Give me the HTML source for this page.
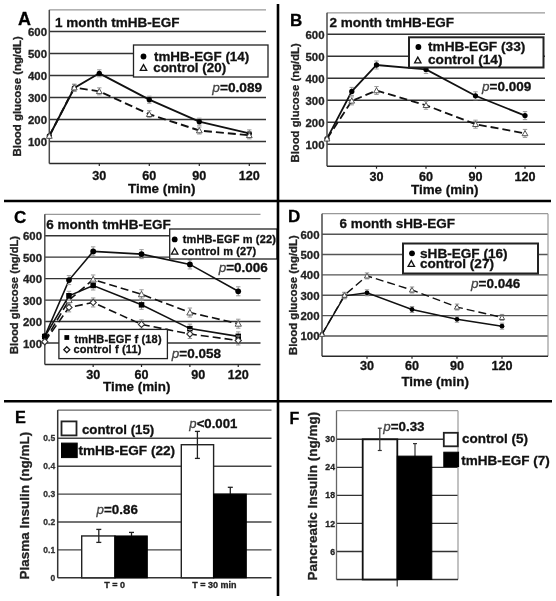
<!DOCTYPE html>
<html><head><meta charset="utf-8"><style>
html,body{margin:0;padding:0;background:#fff;width:556px;height:601px;overflow:hidden}
text{stroke-width:0.3px;font-family:"Liberation Sans", sans-serif}
</style></head><body>
<svg width="556" height="601" viewBox="0 0 556 601" style="display:block;filter:blur(0.4px)">
<g font-family='"Liberation Sans", sans-serif'>
<rect x="0" y="0" width="556" height="601" fill="#fff"/>
<line x1="49.3" y1="141.5" x2="266" y2="141.5" stroke="#333" stroke-width="1.4" />
<line x1="49.3" y1="119.5" x2="266" y2="119.5" stroke="#333" stroke-width="1.4" />
<line x1="49.3" y1="97.5" x2="266" y2="97.5" stroke="#333" stroke-width="1.4" />
<line x1="49.3" y1="75.5" x2="266" y2="75.5" stroke="#333" stroke-width="1.4" />
<line x1="49.3" y1="53.5" x2="266" y2="53.5" stroke="#333" stroke-width="1.4" />
<line x1="49.3" y1="31.5" x2="266" y2="31.5" stroke="#333" stroke-width="1.4" />
<line x1="49.3" y1="9.9" x2="266" y2="9.9" stroke="#999" stroke-width="1.3" />
<line x1="49.3" y1="9.9" x2="49.3" y2="163.5" stroke="#4a4a4a" stroke-width="1.5" />
<line x1="49.3" y1="163.5" x2="266" y2="163.5" stroke="#2a2a2a" stroke-width="1.5" />
<line x1="99.3" y1="163.5" x2="99.3" y2="166.0" stroke="#222" stroke-width="1.2" />
<line x1="149.3" y1="163.5" x2="149.3" y2="166.0" stroke="#222" stroke-width="1.2" />
<line x1="199.3" y1="163.5" x2="199.3" y2="166.0" stroke="#222" stroke-width="1.2" />
<line x1="249.3" y1="163.5" x2="249.3" y2="166.0" stroke="#222" stroke-width="1.2" />
<text x="47" y="146.0" font-size="11.4" font-weight="bold" font-style="normal" text-anchor="end" fill="#222" stroke="#222" >100</text>
<text x="47" y="124.0" font-size="11.4" font-weight="bold" font-style="normal" text-anchor="end" fill="#222" stroke="#222" >200</text>
<text x="47" y="102.0" font-size="11.4" font-weight="bold" font-style="normal" text-anchor="end" fill="#222" stroke="#222" >300</text>
<text x="47" y="80.0" font-size="11.4" font-weight="bold" font-style="normal" text-anchor="end" fill="#222" stroke="#222" >400</text>
<text x="47" y="58.0" font-size="11.4" font-weight="bold" font-style="normal" text-anchor="end" fill="#222" stroke="#222" >500</text>
<text x="47" y="36.0" font-size="11.4" font-weight="bold" font-style="normal" text-anchor="end" fill="#222" stroke="#222" >600</text>
<text x="99.3" y="179.6" font-size="12.6" font-weight="bold" font-style="normal" text-anchor="middle" fill="#111" stroke="#111" >30</text>
<text x="149.3" y="179.6" font-size="12.6" font-weight="bold" font-style="normal" text-anchor="middle" fill="#111" stroke="#111" >60</text>
<text x="199.3" y="179.6" font-size="12.6" font-weight="bold" font-style="normal" text-anchor="middle" fill="#111" stroke="#111" >90</text>
<text x="249.3" y="179.6" font-size="12.6" font-weight="bold" font-style="normal" text-anchor="middle" fill="#111" stroke="#111" >120</text>
<text x="128" y="193" font-size="13.4" font-weight="bold" font-style="normal" text-anchor="start" fill="#111" stroke="#111" >Time (min)</text>
<text transform="translate(20.7,156.5) rotate(-90)" font-size="11.4" font-weight="bold" fill="#222" stroke="#222">Blood glucose (ng/dL)</text>
<text x="55" y="27" font-size="13.5" font-weight="bold" font-style="normal" text-anchor="start" fill="#111" stroke="#111" >1 month tmHB-EGF</text>
<text x="18" y="25" font-size="18" font-weight="bold" font-style="normal" text-anchor="start" fill="#000" stroke="#000" >A</text>
<polyline points="49.3,136.0 74.3,88.0 99.3,73.3 149.3,99.7 199.3,121.7 249.3,133.4" fill="none" stroke="#111" stroke-width="1.9" />
<line x1="74.3" y1="84.54" x2="74.3" y2="91.54" stroke="#999" stroke-width="1.0" />
<line x1="72.1" y1="84.54" x2="76.5" y2="84.54" stroke="#999" stroke-width="1.0" />
<line x1="72.1" y1="91.54" x2="76.5" y2="91.54" stroke="#999" stroke-width="1.0" />
<line x1="99.3" y1="69.8" x2="99.3" y2="76.8" stroke="#999" stroke-width="1.0" />
<line x1="97.1" y1="69.8" x2="101.5" y2="69.8" stroke="#999" stroke-width="1.0" />
<line x1="97.1" y1="76.8" x2="101.5" y2="76.8" stroke="#999" stroke-width="1.0" />
<line x1="149.3" y1="96.2" x2="149.3" y2="103.2" stroke="#999" stroke-width="1.0" />
<line x1="147.10000000000002" y1="96.2" x2="151.5" y2="96.2" stroke="#999" stroke-width="1.0" />
<line x1="147.10000000000002" y1="103.2" x2="151.5" y2="103.2" stroke="#999" stroke-width="1.0" />
<line x1="199.3" y1="118.2" x2="199.3" y2="125.2" stroke="#999" stroke-width="1.0" />
<line x1="197.10000000000002" y1="118.2" x2="201.5" y2="118.2" stroke="#999" stroke-width="1.0" />
<line x1="197.10000000000002" y1="125.2" x2="201.5" y2="125.2" stroke="#999" stroke-width="1.0" />
<line x1="249.3" y1="129.86" x2="249.3" y2="136.86" stroke="#999" stroke-width="1.0" />
<line x1="247.10000000000002" y1="129.86" x2="251.5" y2="129.86" stroke="#999" stroke-width="1.0" />
<line x1="247.10000000000002" y1="136.86" x2="251.5" y2="136.86" stroke="#999" stroke-width="1.0" />
<circle cx="49.3" cy="136.0" r="2.64" fill="#000"/>
<circle cx="74.3" cy="88.0" r="2.64" fill="#000"/>
<circle cx="99.3" cy="73.3" r="2.64" fill="#000"/>
<circle cx="149.3" cy="99.7" r="2.64" fill="#000"/>
<circle cx="199.3" cy="121.7" r="2.64" fill="#000"/>
<circle cx="249.3" cy="133.4" r="2.64" fill="#000"/>
<polyline points="49.3,136.0 74.3,87.6 99.3,91.3 149.3,114.2 199.3,130.5 249.3,135.3" fill="none" stroke="#111" stroke-width="1.9" stroke-dasharray="8,4"/>
<line x1="74.3" y1="84.1" x2="74.3" y2="91.1" stroke="#999" stroke-width="1.0" />
<line x1="72.1" y1="84.1" x2="76.5" y2="84.1" stroke="#999" stroke-width="1.0" />
<line x1="72.1" y1="91.1" x2="76.5" y2="91.1" stroke="#999" stroke-width="1.0" />
<line x1="99.3" y1="87.84" x2="99.3" y2="94.84" stroke="#999" stroke-width="1.0" />
<line x1="97.1" y1="87.84" x2="101.5" y2="87.84" stroke="#999" stroke-width="1.0" />
<line x1="97.1" y1="94.84" x2="101.5" y2="94.84" stroke="#999" stroke-width="1.0" />
<line x1="149.3" y1="110.72" x2="149.3" y2="117.72" stroke="#999" stroke-width="1.0" />
<line x1="147.10000000000002" y1="110.72" x2="151.5" y2="110.72" stroke="#999" stroke-width="1.0" />
<line x1="147.10000000000002" y1="117.72" x2="151.5" y2="117.72" stroke="#999" stroke-width="1.0" />
<line x1="199.3" y1="127.0" x2="199.3" y2="134.0" stroke="#999" stroke-width="1.0" />
<line x1="197.10000000000002" y1="127.0" x2="201.5" y2="127.0" stroke="#999" stroke-width="1.0" />
<line x1="197.10000000000002" y1="134.0" x2="201.5" y2="134.0" stroke="#999" stroke-width="1.0" />
<line x1="249.3" y1="131.84" x2="249.3" y2="138.84" stroke="#999" stroke-width="1.0" />
<line x1="247.10000000000002" y1="131.84" x2="251.5" y2="131.84" stroke="#999" stroke-width="1.0" />
<line x1="247.10000000000002" y1="138.84" x2="251.5" y2="138.84" stroke="#999" stroke-width="1.0" />
<path d="M49.3,133.1 L52.2,138.3 L46.4,138.3 Z" fill="#fff" stroke="#555" stroke-width="1"/>
<path d="M74.3,84.7 L77.2,89.9 L71.4,89.9 Z" fill="#fff" stroke="#555" stroke-width="1"/>
<path d="M99.3,88.5 L102.2,93.6 L96.4,93.6 Z" fill="#fff" stroke="#555" stroke-width="1"/>
<path d="M149.3,111.4 L152.2,116.5 L146.4,116.5 Z" fill="#fff" stroke="#555" stroke-width="1"/>
<path d="M199.3,127.6 L202.2,132.8 L196.4,132.8 Z" fill="#fff" stroke="#555" stroke-width="1"/>
<path d="M249.3,132.5 L252.2,137.6 L246.4,137.6 Z" fill="#fff" stroke="#555" stroke-width="1"/>
<line x1="327" y1="144.2" x2="545" y2="144.2" stroke="#333" stroke-width="1.4" />
<line x1="327" y1="122.19999999999999" x2="545" y2="122.19999999999999" stroke="#333" stroke-width="1.4" />
<line x1="327" y1="100.19999999999999" x2="545" y2="100.19999999999999" stroke="#333" stroke-width="1.4" />
<line x1="327" y1="78.19999999999999" x2="545" y2="78.19999999999999" stroke="#333" stroke-width="1.4" />
<line x1="327" y1="56.19999999999999" x2="545" y2="56.19999999999999" stroke="#333" stroke-width="1.4" />
<line x1="327" y1="34.19999999999999" x2="545" y2="34.19999999999999" stroke="#333" stroke-width="1.4" />
<line x1="327" y1="12.8" x2="545" y2="12.8" stroke="#999" stroke-width="1.3" />
<line x1="327" y1="12.8" x2="327" y2="166.2" stroke="#4a4a4a" stroke-width="1.5" />
<line x1="327" y1="166.2" x2="545" y2="166.2" stroke="#2a2a2a" stroke-width="1.5" />
<line x1="376.5" y1="166.2" x2="376.5" y2="168.7" stroke="#222" stroke-width="1.2" />
<line x1="426.0" y1="166.2" x2="426.0" y2="168.7" stroke="#222" stroke-width="1.2" />
<line x1="475.5" y1="166.2" x2="475.5" y2="168.7" stroke="#222" stroke-width="1.2" />
<line x1="525.0" y1="166.2" x2="525.0" y2="168.7" stroke="#222" stroke-width="1.2" />
<text x="324.5" y="148.7" font-size="11.4" font-weight="bold" font-style="normal" text-anchor="end" fill="#222" stroke="#222" >100</text>
<text x="324.5" y="126.69999999999999" font-size="11.4" font-weight="bold" font-style="normal" text-anchor="end" fill="#222" stroke="#222" >200</text>
<text x="324.5" y="104.69999999999999" font-size="11.4" font-weight="bold" font-style="normal" text-anchor="end" fill="#222" stroke="#222" >300</text>
<text x="324.5" y="82.69999999999999" font-size="11.4" font-weight="bold" font-style="normal" text-anchor="end" fill="#222" stroke="#222" >400</text>
<text x="324.5" y="60.69999999999999" font-size="11.4" font-weight="bold" font-style="normal" text-anchor="end" fill="#222" stroke="#222" >500</text>
<text x="324.5" y="38.69999999999999" font-size="11.4" font-weight="bold" font-style="normal" text-anchor="end" fill="#222" stroke="#222" >600</text>
<text x="376.5" y="181.3" font-size="12.6" font-weight="bold" font-style="normal" text-anchor="middle" fill="#111" stroke="#111" >30</text>
<text x="426.0" y="181.3" font-size="12.6" font-weight="bold" font-style="normal" text-anchor="middle" fill="#111" stroke="#111" >60</text>
<text x="475.5" y="181.3" font-size="12.6" font-weight="bold" font-style="normal" text-anchor="middle" fill="#111" stroke="#111" >90</text>
<text x="525.0" y="181.3" font-size="12.6" font-weight="bold" font-style="normal" text-anchor="middle" fill="#111" stroke="#111" >120</text>
<text x="411" y="193.5" font-size="13.4" font-weight="bold" font-style="normal" text-anchor="start" fill="#111" stroke="#111" >Time (min)</text>
<text transform="translate(298.5,162.5) rotate(-90)" font-size="11.3" font-weight="bold" fill="#222" stroke="#222">Blood glucose (ng/dL)</text>
<text x="329.5" y="26.8" font-size="13.5" font-weight="bold" font-style="normal" text-anchor="start" fill="#111" stroke="#111" >2 month tmHB-EGF</text>
<text x="290" y="25.5" font-size="17" font-weight="bold" font-style="normal" text-anchor="start" fill="#000" stroke="#000" >B</text>
<polyline points="327.0,138.7 351.8,91.4 376.5,65.0 426.0,69.4 475.5,95.8 525.0,115.6" fill="none" stroke="#111" stroke-width="1.8" />
<line x1="351.75" y1="87.39999999999999" x2="351.75" y2="95.39999999999999" stroke="#999" stroke-width="1.0" />
<line x1="349.55" y1="87.39999999999999" x2="353.95" y2="87.39999999999999" stroke="#999" stroke-width="1.0" />
<line x1="349.55" y1="95.39999999999999" x2="353.95" y2="95.39999999999999" stroke="#999" stroke-width="1.0" />
<line x1="376.5" y1="60.999999999999986" x2="376.5" y2="68.99999999999999" stroke="#999" stroke-width="1.0" />
<line x1="374.3" y1="60.999999999999986" x2="378.7" y2="60.999999999999986" stroke="#999" stroke-width="1.0" />
<line x1="374.3" y1="68.99999999999999" x2="378.7" y2="68.99999999999999" stroke="#999" stroke-width="1.0" />
<line x1="426.0" y1="65.39999999999999" x2="426.0" y2="73.39999999999999" stroke="#999" stroke-width="1.0" />
<line x1="423.8" y1="65.39999999999999" x2="428.2" y2="65.39999999999999" stroke="#999" stroke-width="1.0" />
<line x1="423.8" y1="73.39999999999999" x2="428.2" y2="73.39999999999999" stroke="#999" stroke-width="1.0" />
<line x1="475.5" y1="91.79999999999998" x2="475.5" y2="99.79999999999998" stroke="#999" stroke-width="1.0" />
<line x1="473.3" y1="91.79999999999998" x2="477.7" y2="91.79999999999998" stroke="#999" stroke-width="1.0" />
<line x1="473.3" y1="99.79999999999998" x2="477.7" y2="99.79999999999998" stroke="#999" stroke-width="1.0" />
<line x1="525.0" y1="111.6" x2="525.0" y2="119.6" stroke="#999" stroke-width="1.0" />
<line x1="522.8" y1="111.6" x2="527.2" y2="111.6" stroke="#999" stroke-width="1.0" />
<line x1="522.8" y1="119.6" x2="527.2" y2="119.6" stroke="#999" stroke-width="1.0" />
<circle cx="327.0" cy="138.7" r="2.64" fill="#000"/>
<circle cx="351.8" cy="91.4" r="2.64" fill="#000"/>
<circle cx="376.5" cy="65.0" r="2.64" fill="#000"/>
<circle cx="426.0" cy="69.4" r="2.64" fill="#000"/>
<circle cx="475.5" cy="95.8" r="2.64" fill="#000"/>
<circle cx="525.0" cy="115.6" r="2.64" fill="#000"/>
<polyline points="327.0,138.7 351.8,100.9 376.5,90.5 426.0,105.3 475.5,124.2 525.0,133.4" fill="none" stroke="#111" stroke-width="1.8" stroke-dasharray="8,4"/>
<line x1="351.75" y1="96.85999999999999" x2="351.75" y2="104.85999999999999" stroke="#999" stroke-width="1.0" />
<line x1="349.55" y1="96.85999999999999" x2="353.95" y2="96.85999999999999" stroke="#999" stroke-width="1.0" />
<line x1="349.55" y1="104.85999999999999" x2="353.95" y2="104.85999999999999" stroke="#999" stroke-width="1.0" />
<line x1="376.5" y1="86.51999999999998" x2="376.5" y2="94.51999999999998" stroke="#999" stroke-width="1.0" />
<line x1="374.3" y1="86.51999999999998" x2="378.7" y2="86.51999999999998" stroke="#999" stroke-width="1.0" />
<line x1="374.3" y1="94.51999999999998" x2="378.7" y2="94.51999999999998" stroke="#999" stroke-width="1.0" />
<line x1="426.0" y1="101.25999999999999" x2="426.0" y2="109.25999999999999" stroke="#999" stroke-width="1.0" />
<line x1="423.8" y1="101.25999999999999" x2="428.2" y2="101.25999999999999" stroke="#999" stroke-width="1.0" />
<line x1="423.8" y1="109.25999999999999" x2="428.2" y2="109.25999999999999" stroke="#999" stroke-width="1.0" />
<line x1="475.5" y1="120.17999999999998" x2="475.5" y2="128.17999999999998" stroke="#999" stroke-width="1.0" />
<line x1="473.3" y1="120.17999999999998" x2="477.7" y2="120.17999999999998" stroke="#999" stroke-width="1.0" />
<line x1="473.3" y1="128.17999999999998" x2="477.7" y2="128.17999999999998" stroke="#999" stroke-width="1.0" />
<line x1="525.0" y1="129.42" x2="525.0" y2="137.42" stroke="#999" stroke-width="1.0" />
<line x1="522.8" y1="129.42" x2="527.2" y2="129.42" stroke="#999" stroke-width="1.0" />
<line x1="522.8" y1="137.42" x2="527.2" y2="137.42" stroke="#999" stroke-width="1.0" />
<path d="M327.0,135.8 L329.9,141.0 L324.1,141.0 Z" fill="#fff" stroke="#555" stroke-width="1"/>
<path d="M351.8,98.0 L354.6,103.1 L348.9,103.1 Z" fill="#fff" stroke="#555" stroke-width="1"/>
<path d="M376.5,87.7 L379.4,92.8 L373.6,92.8 Z" fill="#fff" stroke="#555" stroke-width="1"/>
<path d="M426.0,102.4 L428.9,107.5 L423.1,107.5 Z" fill="#fff" stroke="#555" stroke-width="1"/>
<path d="M475.5,121.3 L478.4,126.5 L472.6,126.5 Z" fill="#fff" stroke="#555" stroke-width="1"/>
<path d="M525.0,130.6 L527.9,135.7 L522.1,135.7 Z" fill="#fff" stroke="#555" stroke-width="1"/>
<line x1="44.8" y1="343.03" x2="260.5" y2="343.03" stroke="#333" stroke-width="1.4" />
<line x1="44.8" y1="321.56" x2="260.5" y2="321.56" stroke="#333" stroke-width="1.4" />
<line x1="44.8" y1="300.09000000000003" x2="260.5" y2="300.09000000000003" stroke="#333" stroke-width="1.4" />
<line x1="44.8" y1="278.62" x2="260.5" y2="278.62" stroke="#333" stroke-width="1.4" />
<line x1="44.8" y1="257.15" x2="260.5" y2="257.15" stroke="#333" stroke-width="1.4" />
<line x1="44.8" y1="235.68" x2="260.5" y2="235.68" stroke="#333" stroke-width="1.4" />
<line x1="44.8" y1="214.3" x2="260.5" y2="214.3" stroke="#999" stroke-width="1.3" />
<line x1="44.8" y1="214.3" x2="44.8" y2="364.5" stroke="#4a4a4a" stroke-width="1.5" />
<line x1="44.8" y1="364.5" x2="260.5" y2="364.5" stroke="#2a2a2a" stroke-width="1.5" />
<line x1="93.16" y1="364.5" x2="93.16" y2="367.0" stroke="#222" stroke-width="1.2" />
<line x1="141.51999999999998" y1="364.5" x2="141.51999999999998" y2="367.0" stroke="#222" stroke-width="1.2" />
<line x1="189.88" y1="364.5" x2="189.88" y2="367.0" stroke="#222" stroke-width="1.2" />
<line x1="238.24" y1="364.5" x2="238.24" y2="367.0" stroke="#222" stroke-width="1.2" />
<text x="42" y="347.53" font-size="11.4" font-weight="bold" font-style="normal" text-anchor="end" fill="#222" stroke="#222" >100</text>
<text x="42" y="326.06" font-size="11.4" font-weight="bold" font-style="normal" text-anchor="end" fill="#222" stroke="#222" >200</text>
<text x="42" y="304.59000000000003" font-size="11.4" font-weight="bold" font-style="normal" text-anchor="end" fill="#222" stroke="#222" >300</text>
<text x="42" y="283.12" font-size="11.4" font-weight="bold" font-style="normal" text-anchor="end" fill="#222" stroke="#222" >400</text>
<text x="42" y="261.65" font-size="11.4" font-weight="bold" font-style="normal" text-anchor="end" fill="#222" stroke="#222" >500</text>
<text x="42" y="240.18" font-size="11.4" font-weight="bold" font-style="normal" text-anchor="end" fill="#222" stroke="#222" >600</text>
<text x="93.16" y="379.3" font-size="12.6" font-weight="bold" font-style="normal" text-anchor="middle" fill="#111" stroke="#111" >30</text>
<text x="141.51999999999998" y="379.3" font-size="12.6" font-weight="bold" font-style="normal" text-anchor="middle" fill="#111" stroke="#111" >60</text>
<text x="198.38" y="379.3" font-size="12.6" font-weight="bold" font-style="normal" text-anchor="middle" fill="#111" stroke="#111" >90</text>
<text x="238.24" y="379.3" font-size="12.6" font-weight="bold" font-style="normal" text-anchor="middle" fill="#111" stroke="#111" >120</text>
<text x="103" y="391" font-size="13.4" font-weight="bold" font-style="normal" text-anchor="start" fill="#111" stroke="#111" >Time (min)</text>
<text transform="translate(18.3,354) rotate(-90)" font-size="11.2" font-weight="bold" fill="#222" stroke="#222">Blood glucose (ng/dL)</text>
<text x="46.3" y="228.5" font-size="13.5" font-weight="bold" font-style="normal" text-anchor="start" fill="#111" stroke="#111" >6 month tmHB-EGF</text>
<text x="14" y="222.7" font-size="17" font-weight="bold" font-style="normal" text-anchor="start" fill="#000" stroke="#000" >C</text>
<polyline points="44.8,336.2 69.0,280.1 93.2,251.4 141.5,254.1 189.9,264.4 238.2,291.3" fill="none" stroke="#111" stroke-width="1.6" />
<line x1="68.97999999999999" y1="275.6229" x2="68.97999999999999" y2="284.6229" stroke="#999" stroke-width="1.0" />
<line x1="66.77999999999999" y1="275.6229" x2="71.17999999999999" y2="275.6229" stroke="#999" stroke-width="1.0" />
<line x1="66.77999999999999" y1="284.6229" x2="71.17999999999999" y2="284.6229" stroke="#999" stroke-width="1.0" />
<line x1="93.16" y1="246.85309999999998" x2="93.16" y2="255.85309999999998" stroke="#999" stroke-width="1.0" />
<line x1="90.96" y1="246.85309999999998" x2="95.36" y2="246.85309999999998" stroke="#999" stroke-width="1.0" />
<line x1="90.96" y1="255.85309999999998" x2="95.36" y2="255.85309999999998" stroke="#999" stroke-width="1.0" />
<line x1="141.51999999999998" y1="249.6442" x2="141.51999999999998" y2="258.6442" stroke="#999" stroke-width="1.0" />
<line x1="139.32" y1="249.6442" x2="143.71999999999997" y2="249.6442" stroke="#999" stroke-width="1.0" />
<line x1="139.32" y1="258.6442" x2="143.71999999999997" y2="258.6442" stroke="#999" stroke-width="1.0" />
<line x1="189.88" y1="259.9498" x2="189.88" y2="268.9498" stroke="#999" stroke-width="1.0" />
<line x1="187.68" y1="259.9498" x2="192.07999999999998" y2="259.9498" stroke="#999" stroke-width="1.0" />
<line x1="187.68" y1="268.9498" x2="192.07999999999998" y2="268.9498" stroke="#999" stroke-width="1.0" />
<line x1="238.24" y1="286.7873" x2="238.24" y2="295.7873" stroke="#999" stroke-width="1.0" />
<line x1="236.04000000000002" y1="286.7873" x2="240.44" y2="286.7873" stroke="#999" stroke-width="1.0" />
<line x1="236.04000000000002" y1="295.7873" x2="240.44" y2="295.7873" stroke="#999" stroke-width="1.0" />
<circle cx="44.8" cy="336.2" r="2.88" fill="#000"/>
<circle cx="69.0" cy="280.1" r="2.88" fill="#000"/>
<circle cx="93.2" cy="251.4" r="2.88" fill="#000"/>
<circle cx="141.5" cy="254.1" r="2.88" fill="#000"/>
<circle cx="189.9" cy="264.4" r="2.88" fill="#000"/>
<circle cx="238.2" cy="291.3" r="2.88" fill="#000"/>
<polyline points="44.8,340.9 69.0,300.1 93.2,279.5 141.5,294.3 189.9,312.5 238.2,323.7" fill="none" stroke="#111" stroke-width="1.6" stroke-dasharray="8,4"/>
<line x1="68.97999999999999" y1="295.59000000000003" x2="68.97999999999999" y2="304.59000000000003" stroke="#999" stroke-width="1.0" />
<line x1="66.77999999999999" y1="295.59000000000003" x2="71.17999999999999" y2="295.59000000000003" stroke="#999" stroke-width="1.0" />
<line x1="66.77999999999999" y1="304.59000000000003" x2="71.17999999999999" y2="304.59000000000003" stroke="#999" stroke-width="1.0" />
<line x1="93.16" y1="274.9788" x2="93.16" y2="283.9788" stroke="#999" stroke-width="1.0" />
<line x1="90.96" y1="274.9788" x2="95.36" y2="274.9788" stroke="#999" stroke-width="1.0" />
<line x1="90.96" y1="283.9788" x2="95.36" y2="283.9788" stroke="#999" stroke-width="1.0" />
<line x1="141.51999999999998" y1="289.7931" x2="141.51999999999998" y2="298.7931" stroke="#999" stroke-width="1.0" />
<line x1="139.32" y1="289.7931" x2="143.71999999999997" y2="289.7931" stroke="#999" stroke-width="1.0" />
<line x1="139.32" y1="298.7931" x2="143.71999999999997" y2="298.7931" stroke="#999" stroke-width="1.0" />
<line x1="189.88" y1="308.0426" x2="189.88" y2="317.0426" stroke="#999" stroke-width="1.0" />
<line x1="187.68" y1="308.0426" x2="192.07999999999998" y2="308.0426" stroke="#999" stroke-width="1.0" />
<line x1="187.68" y1="317.0426" x2="192.07999999999998" y2="317.0426" stroke="#999" stroke-width="1.0" />
<line x1="238.24" y1="319.207" x2="238.24" y2="328.207" stroke="#999" stroke-width="1.0" />
<line x1="236.04000000000002" y1="319.207" x2="240.44" y2="319.207" stroke="#999" stroke-width="1.0" />
<line x1="236.04000000000002" y1="328.207" x2="240.44" y2="328.207" stroke="#999" stroke-width="1.0" />
<path d="M44.8,337.8 L47.9,343.4 L41.7,343.4 Z" fill="#fff" stroke="#555" stroke-width="1"/>
<path d="M69.0,297.0 L72.1,302.6 L65.9,302.6 Z" fill="#fff" stroke="#555" stroke-width="1"/>
<path d="M93.2,276.4 L96.3,282.0 L90.0,282.0 Z" fill="#fff" stroke="#555" stroke-width="1"/>
<path d="M141.5,291.2 L144.6,296.8 L138.4,296.8 Z" fill="#fff" stroke="#555" stroke-width="1"/>
<path d="M189.9,309.4 L193.0,315.0 L186.8,315.0 Z" fill="#fff" stroke="#555" stroke-width="1"/>
<path d="M238.2,320.6 L241.4,326.2 L235.1,326.2 Z" fill="#fff" stroke="#555" stroke-width="1"/>
<polyline points="44.8,336.6 69.0,295.8 93.2,285.5 141.5,304.8 189.9,328.6 238.2,336.4" fill="none" stroke="#111" stroke-width="1.6" />
<line x1="68.97999999999999" y1="291.296" x2="68.97999999999999" y2="300.296" stroke="#999" stroke-width="1.0" />
<line x1="66.77999999999999" y1="291.296" x2="71.17999999999999" y2="291.296" stroke="#999" stroke-width="1.0" />
<line x1="66.77999999999999" y1="300.296" x2="71.17999999999999" y2="300.296" stroke="#999" stroke-width="1.0" />
<line x1="93.16" y1="280.9904" x2="93.16" y2="289.9904" stroke="#999" stroke-width="1.0" />
<line x1="90.96" y1="280.9904" x2="95.36" y2="280.9904" stroke="#999" stroke-width="1.0" />
<line x1="90.96" y1="289.9904" x2="95.36" y2="289.9904" stroke="#999" stroke-width="1.0" />
<line x1="141.51999999999998" y1="300.3134" x2="141.51999999999998" y2="309.3134" stroke="#999" stroke-width="1.0" />
<line x1="139.32" y1="300.3134" x2="143.71999999999997" y2="300.3134" stroke="#999" stroke-width="1.0" />
<line x1="139.32" y1="309.3134" x2="143.71999999999997" y2="309.3134" stroke="#999" stroke-width="1.0" />
<line x1="189.88" y1="324.1451" x2="189.88" y2="333.1451" stroke="#999" stroke-width="1.0" />
<line x1="187.68" y1="324.1451" x2="192.07999999999998" y2="324.1451" stroke="#999" stroke-width="1.0" />
<line x1="187.68" y1="333.1451" x2="192.07999999999998" y2="333.1451" stroke="#999" stroke-width="1.0" />
<line x1="238.24" y1="331.8743" x2="238.24" y2="340.8743" stroke="#999" stroke-width="1.0" />
<line x1="236.04000000000002" y1="331.8743" x2="240.44" y2="331.8743" stroke="#999" stroke-width="1.0" />
<line x1="236.04000000000002" y1="340.8743" x2="240.44" y2="340.8743" stroke="#999" stroke-width="1.0" />
<rect x="42.0" y="333.8" width="5.5" height="5.5" fill="#000"/>
<rect x="66.2" y="293.0" width="5.5" height="5.5" fill="#000"/>
<rect x="90.4" y="282.7" width="5.5" height="5.5" fill="#000"/>
<rect x="138.8" y="302.1" width="5.5" height="5.5" fill="#000"/>
<rect x="187.1" y="325.9" width="5.5" height="5.5" fill="#000"/>
<rect x="235.5" y="333.6" width="5.5" height="5.5" fill="#000"/>
<polyline points="44.8,341.7 69.0,307.4 93.2,302.5 141.5,324.4 189.9,334.0 238.2,340.5" fill="none" stroke="#111" stroke-width="1.6" stroke-dasharray="8,4"/>
<line x1="68.97999999999999" y1="302.8898" x2="68.97999999999999" y2="311.8898" stroke="#999" stroke-width="1.0" />
<line x1="66.77999999999999" y1="302.8898" x2="71.17999999999999" y2="302.8898" stroke="#999" stroke-width="1.0" />
<line x1="66.77999999999999" y1="311.8898" x2="71.17999999999999" y2="311.8898" stroke="#999" stroke-width="1.0" />
<line x1="93.16" y1="297.9517" x2="93.16" y2="306.9517" stroke="#999" stroke-width="1.0" />
<line x1="90.96" y1="297.9517" x2="95.36" y2="297.9517" stroke="#999" stroke-width="1.0" />
<line x1="90.96" y1="306.9517" x2="95.36" y2="306.9517" stroke="#999" stroke-width="1.0" />
<line x1="141.51999999999998" y1="319.8511" x2="141.51999999999998" y2="328.8511" stroke="#999" stroke-width="1.0" />
<line x1="139.32" y1="319.8511" x2="143.71999999999997" y2="319.8511" stroke="#999" stroke-width="1.0" />
<line x1="139.32" y1="328.8511" x2="143.71999999999997" y2="328.8511" stroke="#999" stroke-width="1.0" />
<line x1="189.88" y1="329.5126" x2="189.88" y2="338.5126" stroke="#999" stroke-width="1.0" />
<line x1="187.68" y1="329.5126" x2="192.07999999999998" y2="329.5126" stroke="#999" stroke-width="1.0" />
<line x1="187.68" y1="338.5126" x2="192.07999999999998" y2="338.5126" stroke="#999" stroke-width="1.0" />
<line x1="238.24" y1="335.9536" x2="238.24" y2="344.9536" stroke="#999" stroke-width="1.0" />
<line x1="236.04000000000002" y1="335.9536" x2="240.44" y2="335.9536" stroke="#999" stroke-width="1.0" />
<line x1="236.04000000000002" y1="344.9536" x2="240.44" y2="344.9536" stroke="#999" stroke-width="1.0" />
<path d="M44.8,338.6 L47.9,341.7 L44.8,344.9 L41.7,341.7 Z" fill="#fff" stroke="#333" stroke-width="1.1"/>
<path d="M69.0,304.3 L72.1,307.4 L69.0,310.5 L65.9,307.4 Z" fill="#fff" stroke="#333" stroke-width="1.1"/>
<path d="M93.2,299.3 L96.3,302.5 L93.2,305.6 L90.0,302.5 Z" fill="#fff" stroke="#333" stroke-width="1.1"/>
<path d="M141.5,321.2 L144.6,324.4 L141.5,327.5 L138.4,324.4 Z" fill="#fff" stroke="#333" stroke-width="1.1"/>
<path d="M189.9,330.9 L193.0,334.0 L189.9,337.1 L186.8,334.0 Z" fill="#fff" stroke="#333" stroke-width="1.1"/>
<path d="M238.2,337.3 L241.4,340.5 L238.2,343.6 L235.1,340.5 Z" fill="#fff" stroke="#333" stroke-width="1.1"/>
<line x1="322" y1="335.95" x2="548" y2="335.95" stroke="#555" stroke-width="1.4" />
<line x1="322" y1="315.6" x2="548" y2="315.6" stroke="#555" stroke-width="1.4" />
<line x1="322" y1="295.25" x2="548" y2="295.25" stroke="#555" stroke-width="1.4" />
<line x1="322" y1="274.90000000000003" x2="548" y2="274.90000000000003" stroke="#555" stroke-width="1.4" />
<line x1="322" y1="254.55" x2="548" y2="254.55" stroke="#555" stroke-width="1.4" />
<line x1="322" y1="234.20000000000002" x2="548" y2="234.20000000000002" stroke="#555" stroke-width="1.4" />
<line x1="322" y1="213.7" x2="548" y2="213.7" stroke="#999" stroke-width="1.3" />
<line x1="548" y1="213.7" x2="548" y2="356.3" stroke="#999" stroke-width="1.2" />
<line x1="322" y1="213.7" x2="322" y2="356.3" stroke="#4a4a4a" stroke-width="1.5" />
<line x1="322" y1="356.3" x2="548" y2="356.3" stroke="#2a2a2a" stroke-width="1.5" />
<line x1="367.0" y1="356.3" x2="367.0" y2="358.8" stroke="#222" stroke-width="1.2" />
<line x1="412.0" y1="356.3" x2="412.0" y2="358.8" stroke="#222" stroke-width="1.2" />
<line x1="457.0" y1="356.3" x2="457.0" y2="358.8" stroke="#222" stroke-width="1.2" />
<line x1="502.0" y1="356.3" x2="502.0" y2="358.8" stroke="#222" stroke-width="1.2" />
<text x="319.5" y="340.45" font-size="11.4" font-weight="bold" font-style="normal" text-anchor="end" fill="#222" stroke="#222" >100</text>
<text x="319.5" y="320.1" font-size="11.4" font-weight="bold" font-style="normal" text-anchor="end" fill="#222" stroke="#222" >200</text>
<text x="319.5" y="299.75" font-size="11.4" font-weight="bold" font-style="normal" text-anchor="end" fill="#222" stroke="#222" >300</text>
<text x="319.5" y="279.40000000000003" font-size="11.4" font-weight="bold" font-style="normal" text-anchor="end" fill="#222" stroke="#222" >400</text>
<text x="319.5" y="259.05" font-size="11.4" font-weight="bold" font-style="normal" text-anchor="end" fill="#222" stroke="#222" >500</text>
<text x="319.5" y="238.70000000000002" font-size="11.4" font-weight="bold" font-style="normal" text-anchor="end" fill="#222" stroke="#222" >600</text>
<text x="367.0" y="369.8" font-size="12.6" font-weight="bold" font-style="normal" text-anchor="middle" fill="#111" stroke="#111" >30</text>
<text x="412.0" y="369.8" font-size="12.6" font-weight="bold" font-style="normal" text-anchor="middle" fill="#111" stroke="#111" >60</text>
<text x="457.0" y="369.8" font-size="12.6" font-weight="bold" font-style="normal" text-anchor="middle" fill="#111" stroke="#111" >90</text>
<text x="502.0" y="369.8" font-size="12.6" font-weight="bold" font-style="normal" text-anchor="middle" fill="#111" stroke="#111" >120</text>
<text x="401.4" y="386.3" font-size="13.4" font-weight="bold" font-style="normal" text-anchor="start" fill="#111" stroke="#111" >Time (min)</text>
<text transform="translate(297,355) rotate(-90)" font-size="11.35" font-weight="bold" fill="#222" stroke="#222">Blood glucose (ng/dL)</text>
<text x="339.5" y="228.4" font-size="13.5" font-weight="bold" font-style="normal" text-anchor="start" fill="#111" stroke="#111" >6 month sHB-EGF</text>
<text x="288" y="222" font-size="17" font-weight="bold" font-style="normal" text-anchor="start" fill="#000" stroke="#000" >D</text>
<polyline points="322.0,334.3 344.5,295.9 367.0,292.8 412.0,309.5 457.0,319.3 502.0,326.2" fill="none" stroke="#111" stroke-width="1.4" />
<line x1="344.5" y1="292.8605" x2="344.5" y2="298.8605" stroke="#999" stroke-width="1.0" />
<line x1="342.3" y1="292.8605" x2="346.7" y2="292.8605" stroke="#999" stroke-width="1.0" />
<line x1="342.3" y1="298.8605" x2="346.7" y2="298.8605" stroke="#999" stroke-width="1.0" />
<line x1="367.0" y1="289.808" x2="367.0" y2="295.808" stroke="#999" stroke-width="1.0" />
<line x1="364.8" y1="289.808" x2="369.2" y2="289.808" stroke="#999" stroke-width="1.0" />
<line x1="364.8" y1="295.808" x2="369.2" y2="295.808" stroke="#999" stroke-width="1.0" />
<line x1="412.0" y1="306.495" x2="412.0" y2="312.495" stroke="#999" stroke-width="1.0" />
<line x1="409.8" y1="306.495" x2="414.2" y2="306.495" stroke="#999" stroke-width="1.0" />
<line x1="409.8" y1="312.495" x2="414.2" y2="312.495" stroke="#999" stroke-width="1.0" />
<line x1="457.0" y1="316.26300000000003" x2="457.0" y2="322.26300000000003" stroke="#999" stroke-width="1.0" />
<line x1="454.8" y1="316.26300000000003" x2="459.2" y2="316.26300000000003" stroke="#999" stroke-width="1.0" />
<line x1="454.8" y1="322.26300000000003" x2="459.2" y2="322.26300000000003" stroke="#999" stroke-width="1.0" />
<line x1="502.0" y1="323.182" x2="502.0" y2="329.182" stroke="#999" stroke-width="1.0" />
<line x1="499.8" y1="323.182" x2="504.2" y2="323.182" stroke="#999" stroke-width="1.0" />
<line x1="499.8" y1="329.182" x2="504.2" y2="329.182" stroke="#999" stroke-width="1.0" />
<circle cx="322.0" cy="334.3" r="2.4" fill="#000"/>
<circle cx="344.5" cy="295.9" r="2.4" fill="#000"/>
<circle cx="367.0" cy="292.8" r="2.4" fill="#000"/>
<circle cx="412.0" cy="309.5" r="2.4" fill="#000"/>
<circle cx="457.0" cy="319.3" r="2.4" fill="#000"/>
<circle cx="502.0" cy="326.2" r="2.4" fill="#000"/>
<polyline points="322.0,334.3 344.5,295.2 367.0,275.9 412.0,290.0 457.0,307.1 502.0,317.4" fill="none" stroke="#111" stroke-width="1.4" stroke-dasharray="8,4"/>
<line x1="344.5" y1="292.25" x2="344.5" y2="298.25" stroke="#999" stroke-width="1.0" />
<line x1="342.3" y1="292.25" x2="346.7" y2="292.25" stroke="#999" stroke-width="1.0" />
<line x1="342.3" y1="298.25" x2="346.7" y2="298.25" stroke="#999" stroke-width="1.0" />
<line x1="367.0" y1="272.9175" x2="367.0" y2="278.9175" stroke="#999" stroke-width="1.0" />
<line x1="364.8" y1="272.9175" x2="369.2" y2="272.9175" stroke="#999" stroke-width="1.0" />
<line x1="364.8" y1="278.9175" x2="369.2" y2="278.9175" stroke="#999" stroke-width="1.0" />
<line x1="412.0" y1="286.959" x2="412.0" y2="292.959" stroke="#999" stroke-width="1.0" />
<line x1="409.8" y1="286.959" x2="414.2" y2="286.959" stroke="#999" stroke-width="1.0" />
<line x1="409.8" y1="292.959" x2="414.2" y2="292.959" stroke="#999" stroke-width="1.0" />
<line x1="457.0" y1="304.053" x2="457.0" y2="310.053" stroke="#999" stroke-width="1.0" />
<line x1="454.8" y1="304.053" x2="459.2" y2="304.053" stroke="#999" stroke-width="1.0" />
<line x1="454.8" y1="310.053" x2="459.2" y2="310.053" stroke="#999" stroke-width="1.0" />
<line x1="502.0" y1="314.4315" x2="502.0" y2="320.4315" stroke="#999" stroke-width="1.0" />
<line x1="499.8" y1="314.4315" x2="504.2" y2="314.4315" stroke="#999" stroke-width="1.0" />
<line x1="499.8" y1="320.4315" x2="504.2" y2="320.4315" stroke="#999" stroke-width="1.0" />
<path d="M322.0,331.7 L324.6,336.4 L319.4,336.4 Z" fill="#fff" stroke="#555" stroke-width="1"/>
<path d="M344.5,292.6 L347.1,297.3 L341.9,297.3 Z" fill="#fff" stroke="#555" stroke-width="1"/>
<path d="M367.0,273.3 L369.6,278.0 L364.4,278.0 Z" fill="#fff" stroke="#555" stroke-width="1"/>
<path d="M412.0,287.4 L414.6,292.0 L409.4,292.0 Z" fill="#fff" stroke="#555" stroke-width="1"/>
<path d="M457.0,304.5 L459.6,309.1 L454.4,309.1 Z" fill="#fff" stroke="#555" stroke-width="1"/>
<path d="M502.0,314.8 L504.6,319.5 L499.4,319.5 Z" fill="#fff" stroke="#555" stroke-width="1"/>
<rect x="133.5" y="45" width="134.5" height="32" fill="#fff" stroke="#222" stroke-width="1.3"/>
<circle cx="143.5" cy="56.5" r="2.9" fill="#000"/>
<text x="154" y="60.7" font-size="13.4" font-weight="bold" font-style="normal" text-anchor="start" fill="#111" stroke="#111" >tmHB-EGF (14)</text>
<path d="M143.5,64.6 L146.7,70.39999999999999 L140.3,70.39999999999999 Z" fill="#fff" stroke="#111" stroke-width="1.3"/>
<text x="153.2" y="72" font-size="13.4" font-weight="bold" font-style="normal" text-anchor="start" fill="#111" stroke="#111" >control (20)</text>
<text x="212.3" y="91.6" font-size="13.7"><tspan font-style="italic" font-weight="normal" fill="#444" stroke="#444">p</tspan><tspan font-weight="bold" fill="#111" stroke="#111">=0.089</tspan></text>
<rect x="409" y="37.3" width="134.5" height="30.2" fill="#fff" stroke="#222" stroke-width="2"/>
<circle cx="418.4" cy="47" r="2.9" fill="#000"/>
<text x="428" y="50.8" font-size="13.7" font-weight="bold" font-style="normal" text-anchor="start" fill="#111" stroke="#111" >tmHB-EGF (33)</text>
<path d="M417.8,57.099999999999994 L421.0,62.9 L414.6,62.9 Z" fill="#fff" stroke="#111" stroke-width="1.3"/>
<text x="428" y="64" font-size="13.7" font-weight="bold" font-style="normal" text-anchor="start" fill="#111" stroke="#111" >control (14)</text>
<text x="482" y="90.5" font-size="13.5"><tspan font-style="italic" font-weight="normal" fill="#444" stroke="#444">p</tspan><tspan font-weight="bold" fill="#111" stroke="#111">=0.009</tspan></text>
<rect x="169.7" y="229" width="107.3" height="30" fill="#fff" stroke="#222" stroke-width="1.3"/>
<circle cx="174.7" cy="239.4" r="2.9" fill="#000"/>
<text x="182.7" y="243.3" font-size="11.0" font-weight="bold" font-style="normal" text-anchor="start" fill="#111" stroke="#111" stroke-width="0" letter-spacing="0.15">tmHB-EGF m (22)</text>
<path d="M174.7,248.3 L177.89999999999998,254.1 L171.5,254.1 Z" fill="#fff" stroke="#111" stroke-width="1.3"/>
<text x="181.6" y="254.5" font-size="11.0" font-weight="bold" font-style="normal" text-anchor="start" fill="#111" stroke="#111" stroke-width="0" letter-spacing="0.15">control m (27)</text>
<text x="218.7" y="272.4" font-size="13.5"><tspan font-style="italic" font-weight="normal" fill="#444" stroke="#444">p</tspan><tspan font-weight="bold" fill="#111" stroke="#111">=0.006</tspan></text>
<rect x="58.9" y="329.4" width="108.5" height="29.2" fill="#fff" stroke="#222" stroke-width="1.3"/>
<rect x="64.39999999999999" y="335.1" width="4.8" height="4.8" fill="#000"/>
<text x="74.5" y="342.7" font-size="11.0" font-weight="bold" font-style="normal" text-anchor="start" fill="#111" stroke="#111" stroke-width="0" letter-spacing="0.15">tmHB-EGF f (18)</text>
<path d="M66.8,346.7 L69.8,349.7 L66.8,352.7 L63.8,349.7 Z" fill="#fff" stroke="#111" stroke-width="1.3"/>
<text x="73.4" y="352.7" font-size="11.0" font-weight="bold" font-style="normal" text-anchor="start" fill="#111" stroke="#111" stroke-width="0" letter-spacing="0.15">control f (11)</text>
<text x="171.8" y="357.8" font-size="13.5"><tspan font-style="italic" font-weight="normal" fill="#444" stroke="#444">p</tspan><tspan font-weight="bold" fill="#111" stroke="#111">=0.058</tspan></text>
<rect x="403" y="243.5" width="135" height="30" fill="#fff" stroke="#222" stroke-width="2"/>
<circle cx="412" cy="253.3" r="2.9" fill="#000"/>
<text x="420" y="257.8" font-size="13.6" font-weight="bold" font-style="normal" text-anchor="start" fill="#111" stroke="#111" >sHB-EGF (16)</text>
<path d="M411.3,260.6 L414.5,266.40000000000003 L408.1,266.40000000000003 Z" fill="#fff" stroke="#111" stroke-width="1.3"/>
<text x="420" y="268.3" font-size="13.6" font-weight="bold" font-style="normal" text-anchor="start" fill="#111" stroke="#111" >control (27)</text>
<text x="471" y="288" font-size="13.5"><tspan font-style="italic" font-weight="normal" fill="#444" stroke="#444">p</tspan><tspan font-weight="bold" fill="#111" stroke="#111">=0.046</tspan></text>
<line x1="57.7" y1="549.9" x2="271.5" y2="549.9" stroke="#444" stroke-width="1.4" />
<line x1="57.7" y1="522.0" x2="271.5" y2="522.0" stroke="#444" stroke-width="1.4" />
<line x1="57.7" y1="494.09999999999997" x2="271.5" y2="494.09999999999997" stroke="#444" stroke-width="1.4" />
<line x1="57.7" y1="466.19999999999993" x2="271.5" y2="466.19999999999993" stroke="#444" stroke-width="1.4" />
<line x1="57.7" y1="438.29999999999995" x2="271.5" y2="438.29999999999995" stroke="#444" stroke-width="1.4" />
<line x1="57.7" y1="410.1" x2="271.5" y2="410.1" stroke="#666" stroke-width="1.3" />
<line x1="57.7" y1="410.1" x2="57.7" y2="577.8" stroke="#333" stroke-width="1.5" />
<line x1="57.7" y1="577.8" x2="271.5" y2="577.8" stroke="#333" stroke-width="1.5" />
<text x="55.2" y="580.9" font-size="8.5" font-weight="bold" font-style="normal" text-anchor="end" fill="#333" stroke="#333" >0</text>
<text x="55.2" y="553.0" font-size="8.5" font-weight="bold" font-style="normal" text-anchor="end" fill="#333" stroke="#333" >0.1</text>
<text x="55.2" y="525.1" font-size="8.5" font-weight="bold" font-style="normal" text-anchor="end" fill="#333" stroke="#333" >0.2</text>
<text x="55.2" y="497.2" font-size="8.5" font-weight="bold" font-style="normal" text-anchor="end" fill="#333" stroke="#333" >0.3</text>
<text x="55.2" y="469.29999999999995" font-size="8.5" font-weight="bold" font-style="normal" text-anchor="end" fill="#333" stroke="#333" >0.4</text>
<text x="55.2" y="441.4" font-size="8.5" font-weight="bold" font-style="normal" text-anchor="end" fill="#333" stroke="#333" >0.5</text>
<line x1="131.5" y1="532.4" x2="131.5" y2="539.5" stroke="#222" stroke-width="1.3" />
<line x1="129.0" y1="532.4" x2="134.0" y2="532.4" stroke="#222" stroke-width="1.3" />
<line x1="129.0" y1="539.5" x2="134.0" y2="539.5" stroke="#222" stroke-width="1.3" />
<line x1="230.3" y1="487.3" x2="230.3" y2="500.9" stroke="#222" stroke-width="1.3" />
<line x1="227.8" y1="487.3" x2="232.8" y2="487.3" stroke="#222" stroke-width="1.3" />
<line x1="227.8" y1="500.9" x2="232.8" y2="500.9" stroke="#222" stroke-width="1.3" />
<rect x="81.7" y="535.9499999999999" width="33.2" height="41.85000000000002" fill="#fff" stroke="#222" stroke-width="1.4"/>
<rect x="114.9" y="535.9499999999999" width="32.4" height="41.85000000000002" fill="#000" stroke="#000" stroke-width="1"/>
<rect x="181.3" y="444.717" width="32.3" height="133.08299999999997" fill="#fff" stroke="#222" stroke-width="1.4"/>
<rect x="213.6" y="494.09999999999997" width="32.7" height="83.69999999999999" fill="#000" stroke="#000" stroke-width="1"/>
<line x1="98.8" y1="529.4" x2="98.8" y2="542.4" stroke="#222" stroke-width="1.3" />
<line x1="96.3" y1="529.4" x2="101.3" y2="529.4" stroke="#222" stroke-width="1.3" />
<line x1="96.3" y1="542.4" x2="101.3" y2="542.4" stroke="#222" stroke-width="1.3" />
<line x1="197.4" y1="431.4" x2="197.4" y2="458.4" stroke="#222" stroke-width="1.3" />
<line x1="194.9" y1="431.4" x2="199.9" y2="431.4" stroke="#222" stroke-width="1.3" />
<line x1="194.9" y1="458.4" x2="199.9" y2="458.4" stroke="#222" stroke-width="1.3" />
<rect x="61.5" y="421.4" width="15" height="14" fill="#fff" stroke="#222" stroke-width="1.8"/>
<rect x="61.5" y="443.1" width="15.7" height="14.5" fill="#000" stroke="#000" stroke-width="1"/>
<text x="81.9" y="433.5" font-size="13.3" font-weight="bold" font-style="normal" text-anchor="start" fill="#111" stroke="#111" >control (15)</text>
<text x="78.4" y="455.3" font-size="13.6" font-weight="bold" font-style="normal" text-anchor="start" fill="#111" stroke="#111" >tmHB-EGF (22)</text>
<text x="96.6" y="513.6" font-size="13.4"><tspan font-style="italic" font-weight="normal" fill="#444" stroke="#444">p</tspan><tspan font-weight="bold" fill="#111" stroke="#111">=0.86</tspan></text>
<text x="189.3" y="428" font-size="13.2"><tspan font-style="italic" font-weight="normal" fill="#444" stroke="#444">p</tspan><tspan font-weight="bold" fill="#111" stroke="#111">&lt;0.001</tspan></text>
<text x="114.7" y="588" font-size="9" font-weight="bold" font-style="normal" text-anchor="middle" fill="#222" stroke="#222" >T = 0</text>
<text x="214.3" y="588" font-size="9" font-weight="bold" font-style="normal" text-anchor="middle" fill="#222" stroke="#222" >T = 30 min</text>
<text transform="translate(29,579.5) rotate(-90)" font-size="13.5" font-weight="bold" fill="#222" stroke="#222">Plasma Insulin (ng/mL)</text>
<text x="15" y="422.7" font-size="16.3" font-weight="bold" font-style="normal" text-anchor="start" fill="#000" stroke="#000" >E</text>
<line x1="336.5" y1="551.462" x2="458" y2="551.462" stroke="#333" stroke-width="1.4" />
<line x1="336.5" y1="523.424" x2="458" y2="523.424" stroke="#333" stroke-width="1.4" />
<line x1="336.5" y1="495.38599999999997" x2="458" y2="495.38599999999997" stroke="#333" stroke-width="1.4" />
<line x1="336.5" y1="467.348" x2="458" y2="467.348" stroke="#333" stroke-width="1.4" />
<line x1="336.5" y1="439.31" x2="458" y2="439.31" stroke="#333" stroke-width="1.4" />
<line x1="336.5" y1="410.7" x2="458" y2="410.7" stroke="#999" stroke-width="1.3" />
<line x1="458" y1="410.7" x2="458" y2="579.5" stroke="#999" stroke-width="1.2" />
<line x1="336.5" y1="410.7" x2="336.5" y2="579.5" stroke="#666" stroke-width="1.3" />
<line x1="336.5" y1="579.5" x2="458" y2="579.5" stroke="#333" stroke-width="1.5" />
<line x1="397.2" y1="579.5" x2="397.2" y2="586.5" stroke="#333" stroke-width="1.2" />
<text x="335" y="554.562" font-size="8.7" font-weight="bold" font-style="normal" text-anchor="end" fill="#222" stroke="#222" >6</text>
<text x="335" y="526.524" font-size="8.7" font-weight="bold" font-style="normal" text-anchor="end" fill="#222" stroke="#222" >12</text>
<text x="335" y="498.486" font-size="8.7" font-weight="bold" font-style="normal" text-anchor="end" fill="#222" stroke="#222" >18</text>
<text x="335" y="470.44800000000004" font-size="8.7" font-weight="bold" font-style="normal" text-anchor="end" fill="#222" stroke="#222" >24</text>
<text x="335" y="442.41" font-size="8.7" font-weight="bold" font-style="normal" text-anchor="end" fill="#222" stroke="#222" >30</text>
<line x1="415" y1="443.6" x2="415" y2="468" stroke="#333" stroke-width="1.2" />
<line x1="413.0" y1="443.6" x2="417.0" y2="443.6" stroke="#333" stroke-width="1.2" />
<line x1="413.0" y1="468" x2="417.0" y2="468" stroke="#333" stroke-width="1.2" />
<rect x="362.7" y="439.31" width="34.6" height="140.19" fill="#fff" stroke="#111" stroke-width="1.8"/>
<rect x="397.3" y="456.1328" width="34.5" height="123.36720000000003" fill="#000" stroke="#000" stroke-width="1"/>
<line x1="379.8" y1="428.2" x2="379.8" y2="450.5" stroke="#333" stroke-width="1.2" />
<line x1="377.8" y1="428.2" x2="381.8" y2="428.2" stroke="#333" stroke-width="1.2" />
<line x1="377.8" y1="450.5" x2="381.8" y2="450.5" stroke="#333" stroke-width="1.2" />
<rect x="443.8" y="432.8" width="14" height="13.5" fill="#fff" stroke="#222" stroke-width="1.8"/>
<rect x="443.8" y="452.2" width="14.8" height="14.3" fill="#000" stroke="#000" stroke-width="1"/>
<text x="462" y="442.9" font-size="13.5" font-weight="bold" font-style="normal" text-anchor="start" fill="#111" stroke="#111" >control (5)</text>
<text x="461.3" y="465" font-size="13.5" font-weight="bold" font-style="normal" text-anchor="start" fill="#111" stroke="#111" >tmHB-EGF (7)</text>
<text x="383.2" y="430.6" font-size="13.4"><tspan font-style="italic" font-weight="normal" fill="#444" stroke="#444">p</tspan><tspan font-weight="bold" fill="#111" stroke="#111">=0.33</tspan></text>
<text transform="translate(317,580.5) rotate(-90)" font-size="13.5" font-weight="bold" fill="#222" stroke="#222">Pancreatic Insulin (ng/mg)</text>
<text x="289.5" y="424" font-size="16" font-weight="bold" font-style="normal" text-anchor="start" fill="#000" stroke="#000" >F</text>
<line x1="4" y1="201" x2="551" y2="201" stroke="#000" stroke-width="2.6" />
<line x1="4" y1="401.2" x2="552" y2="401.2" stroke="#000" stroke-width="2.6" />
<line x1="278" y1="4" x2="278" y2="596" stroke="#000" stroke-width="2.6" />
</g></svg>
</body></html>
